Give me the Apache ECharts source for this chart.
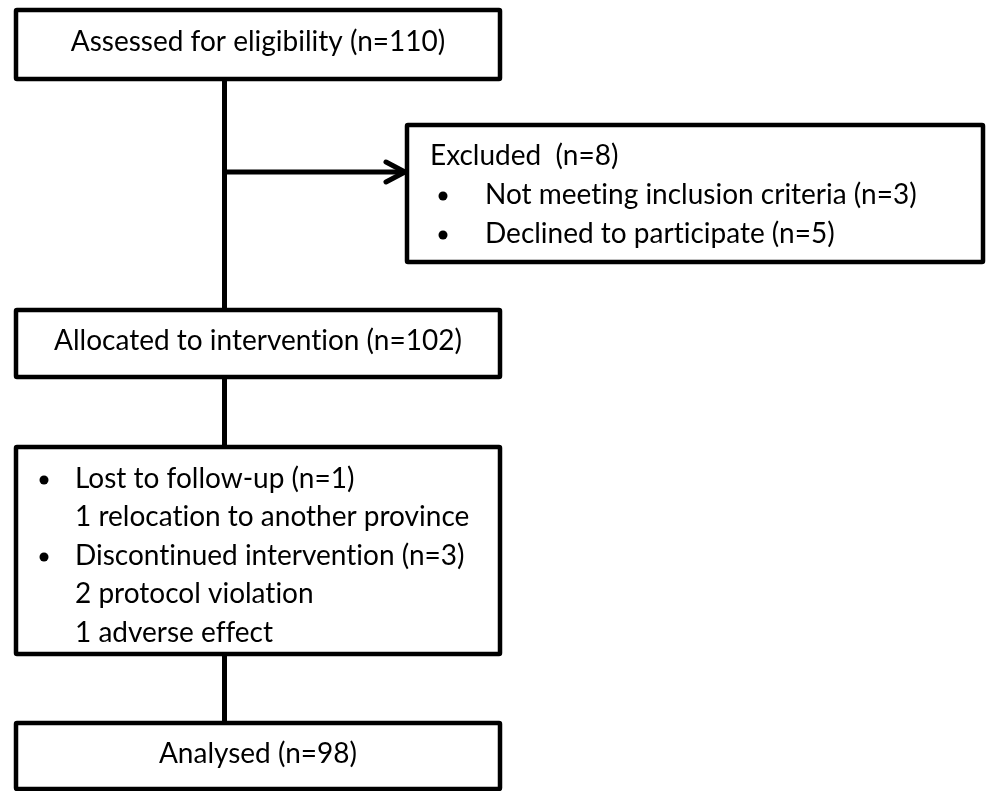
<!DOCTYPE html>
<html>
<head>
<meta charset="utf-8">
<script src="https://cdn.jsdelivr.net/npm/echarts@6/dist/echarts.min.js"></script>
<style>
html,body{margin:0;padding:0;background:#fff;}
#chart{width:987px;height:791px;}
</style>
</head>
<body>
<div id="chart"></div>
<script>
// ---- content ----
const assessedText = 'Assessed for eligibility (n=110)';
const excludedLines = ['Excluded  (n=8)', 'Not meeting inclusion criteria (n=3)', 'Declined to participate (n=5)'];
const excludedBullets = [false, true, true];
const allocatedText = 'Allocated to intervention (n=102)';
const lostLines = ['Lost to follow-up (n=1)', '1 relocation to another province', 'Discontinued intervention (n=3)', '2 protocol violation', '1 adverse effect'];
const lostBullets = [true, false, true, false, false];
const analysedText = 'Analysed (n=98)';

// ---- layout (page units on hidden value axes) ----
const boxRects = [[16, 10, 500, 79], [407, 125, 983, 262], [16, 310, 500, 377], [16, 447, 500, 654], [16, 723, 500, 789]];
const spineX = 224.5;
const connectorSegs = [[spineX, 79, spineX, 310], [spineX, 377, spineX, 447], [spineX, 654, spineX, 723], [spineX, 172, 404, 172]];
const arrowTip = [[405, 172]];

const FONT_SIZE = 28;
const FONT = FONT_SIZE + 'px Lato';
const LINE_GAP = 38.5;

// Build text items
const textItems = [];
const bulletItems = [];
textItems.push({x: 258, b: 51, text: assessedText, align: 'center'});
excludedLines.forEach((t, i) => {
  const b = 165 + i * 39;
  textItems.push({x: excludedBullets[i] ? 485 : 430, b: b, text: t, align: 'left'});
  if (excludedBullets[i]) bulletItems.push([443, b - 8]);
});
textItems.push({x: 258, b: 350, text: allocatedText, align: 'center'});
lostLines.forEach((t, i) => {
  const b = 488 + i * LINE_GAP;
  textItems.push({x: 75, b: b, text: t, align: 'left'});
  if (lostBullets[i]) bulletItems.push([44, b - 8]);
});
textItems.push({x: 258, b: 763, text: analysedText, align: 'center'});

// prevent the font's "ti"/"ff" ligatures so glyphs look like the original
function noLig(s) { return s.replace(/t(?=i)/g, 't\u200C').replace(/f(?=[fil])/g, 'f\u200C'); }

const chart = echarts.init(document.getElementById('chart'), null, {renderer: 'canvas'});
const option = {
  backgroundColor: '#ffffff',
  animation: false,
  grid: {left: 0, right: 0, top: 0, bottom: 0},
  xAxis: {type: 'value', min: 0, max: 987, show: false},
  yAxis: {type: 'value', min: 0, max: 791, inverse: true, show: false},
  series: [
    {
      type: 'custom', clip: false, z: 1,
      data: connectorSegs,
      renderItem: function (params, api) {
        const p0 = api.coord([api.value(0), api.value(1)]);
        const p1 = api.coord([api.value(2), api.value(3)]);
        return {type: 'line', shape: {x1: p0[0], y1: p0[1], x2: p1[0], y2: p1[1]},
          style: {stroke: '#000', lineWidth: 5}};
      }
    },
    {
      type: 'custom', clip: false, z: 2,
      data: arrowTip,
      renderItem: function (params, api) {
        const p = api.coord([api.value(0), api.value(1)]);
        return {type: 'polyline', shape: {points: [[p[0] - 19, p[1] - 10], [p[0], p[1]], [p[0] - 19, p[1] + 10]]},
          style: {stroke: '#000', fill: null, lineWidth: 5, lineJoin: 'miter', lineCap: 'round'}};
      }
    },
    {
      type: 'custom', clip: false, z: 3,
      data: boxRects,
      renderItem: function (params, api) {
        const p0 = api.coord([api.value(0), api.value(1)]);
        const p1 = api.coord([api.value(2), api.value(3)]);
        return {type: 'rect', shape: {x: p0[0], y: p0[1], width: p1[0] - p0[0], height: p1[1] - p0[1], r: 1},
          style: {fill: '#fff', stroke: '#000', lineWidth: 4.5}};
      }
    },
    {
      type: 'custom', clip: false, z: 4,
      data: bulletItems,
      renderItem: function (params, api) {
        const p = api.coord([api.value(0), api.value(1)]);
        return {type: 'circle', shape: {cx: p[0], cy: p[1], r: 4.5}, style: {fill: '#000'}};
      }
    },
    {
      type: 'custom', clip: false, z: 5,
      data: textItems.map(t => [t.x, t.b]),
      renderItem: function (params, api) {
        const it = textItems[params.dataIndex];
        const p = api.coord([api.value(0), api.value(1)]);
        return {type: 'text', x: p[0], y: p[1] - 9.5,
          style: {text: noLig(it.text), font: FONT, fill: '#000', align: it.align, verticalAlign: 'middle'}};
      }
    }
  ]
};
chart.setOption(option);
</script>
</body>
</html>
